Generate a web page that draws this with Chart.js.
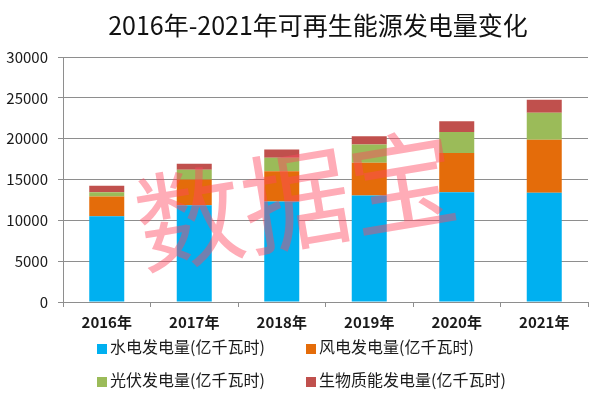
<!DOCTYPE html>
<html lang="zh">
<head>
    <meta charset="UTF-8">
    <title>2016年-2021年可再生能源发电量变化</title>
    <script src="https://cdn.jsdelivr.net/npm/chart.js"></script>
    <style>
        body { margin: 0; background: #fff; }
        #wrap { position: relative; width: 600px; height: 395px; font-family: "Noto Sans CJK SC", sans-serif; }
        #titel { position: absolute; left: 18px; width: 600px; top: 8px; text-align: center; font-size: 25px; line-height: 32px; color: #111; white-space: nowrap; }
        .item { position: absolute; white-space: nowrap; line-height: 20px; font-size: 16px; color: #1a1a1a; }
        .box { display: inline-block; width: 10px; height: 10px; margin-right: 3px; vertical-align: -1px; }
    </style>
</head>
<body>
<div id="wrap">
    <canvas id="chart" width="600" height="395"></canvas>
    <div id="titel">2016年-2021年可再生能源发电量变化</div>
    <div id="legend"></div>
</div>
<script>
// Daten
const jahre = ['2016年', '2017年', '2018年', '2019年', '2020年', '2021年'];
const wasser = [10500, 11850, 12300, 13040, 13450, 13370];
const wind = [2420, 3150, 3720, 4000, 4780, 6500];
const solar = [530, 1190, 1640, 2250, 2580, 3310];
const bio = [780, 740, 1020, 1020, 1310, 1590];

const namen = ['水电发电量(亿千瓦时)', '风电发电量(亿千瓦时)', '光伏发电量(亿千瓦时)', '生物质能发电量(亿千瓦时)'];
const farben = ['#00b0f0', '#e46c0a', '#9bbb59', '#c0504d'];
const font = '"Noto Sans CJK SC", sans-serif';

// Wasserzeichen
const watermark = {
    id: 'watermark',
    afterDatasetsDraw(chart) {
        const c = chart.ctx;
        c.save();
        c.translate(296, 200);
        c.rotate(-9.5 * Math.PI / 180);
        c.font = '108px ' + font;
        c.fillStyle = 'rgba(255, 70, 95, 0.45)';
        c.textAlign = 'center';
        c.textBaseline = 'middle';
        c.fillText('数据宝', 0, 0);
        c.restore();
    }
};

const datasets = [wasser, wind, solar, bio].map((d, i) => ({
    label: namen[i],
    data: d,
    backgroundColor: farben[i],
    borderWidth: 0,
    categoryPercentage: 1,
    barPercentage: 0.4
}));

new Chart(document.getElementById('chart'), {
    type: 'bar',
    data: { labels: jahre, datasets: datasets },
    plugins: [watermark],
    options: {
        responsive: false,
        animation: false,
        layout: { padding: { left: 3, right: 12, top: 57, bottom: 58 } },
        plugins: {
            legend: { display: false },
            tooltip: { enabled: false },
            title: { display: false }
        },
        scales: {
            x: {
                stacked: true,
                grid: { display: true, drawOnChartArea: false, color: '#8e8e8e', tickLength: 5 },
                border: { color: '#8e8e8e' },
                ticks: { color: '#1a1a1a', padding: 6, maxRotation: 0, font: { family: font, size: 15, weight: 'bold' } }
            },
            y: {
                stacked: true,
                min: 0,
                max: 30000,
                afterFit(scale) { scale.width = 60; },
                grid: { color: '#8e8e8e', tickLength: 5 },
                border: { color: '#8e8e8e' },
                ticks: { stepSize: 5000, color: '#1a1a1a', padding: 10, font: { family: font, size: 15 }, callback: v => String(v) }
            }
        }
    }
});

// Legende
const pos = [[97, 336], [306, 336], [97, 369], [306, 369]];
const legend = document.getElementById('legend');
namen.forEach((n, i) => {
    const el = document.createElement('div');
    el.className = 'item';
    el.style.left = pos[i][0] + 'px';
    el.style.top = pos[i][1] + 'px';
    el.innerHTML = '<span class="box" style="background:' + farben[i] + '"></span>' + n;
    legend.appendChild(el);
});
</script>
</body>
</html>
